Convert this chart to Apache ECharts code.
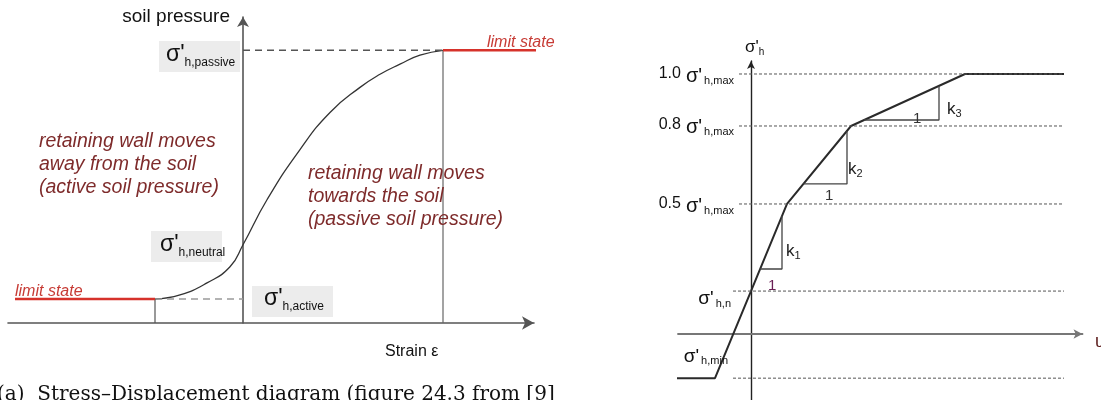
<!DOCTYPE html>
<html>
<head>
<meta charset="utf-8">
<script src="https://cdn.jsdelivr.net/npm/echarts@6/dist/echarts.min.js"></script>
<style>
  html, body { margin: 0; padding: 0; background: #fff; }
  #chart { width: 1101px; height: 400px; }
</style>
</head>
<body>
<div id="chart"></div>
<script>
// left diagram : strain (passive limit = 1) vs soil pressure (passive = 1)
const curveStrain   = [-0.44, -0.315, -0.18, -0.065, 0, 0.12, 0.285, 0.435, 0.585, 0.685, 0.785, 0.885, 1.0];
const curvePressure = [0.088, 0.103, 0.147, 0.206, 0.287, 0.452, 0.636, 0.772, 0.864, 0.912, 0.949, 0.982, 1.0];
const activeStrain = -0.44;
const passiveStrain = 1.0;
const activePressure = 0.088;
const passivePressure = 1.0;
const limitLeftEnd = -1.14;
const limitRightEnd = 1.57;

// right diagram : displacement u vs σ'h / σ'h,max
const uPoints   = [-0.78, -0.36, 0, 0.36, 1.0, 2.14, 3.13];
const sigPoints = [-0.17, -0.17, 0.165, 0.5, 0.8, 1.0, 1.0];
const levelValues = [1.0, 0.8, 0.5, 0.165, -0.17];
const levelStart  = [-0.12, -0.12, -0.12, -0.18, -0.18];
const levelEnd = 3.13;
const triK1 = [[0.09, 0.25], [0.31, 0.25], [0.31, 0.454]];
const triK2 = [[0.524, 0.577], [0.96, 0.577], [0.96, 0.781]];
const triK3 = [[1.131, 0.823], [1.88, 0.823], [1.88, 0.954]];

const SANS = '"Liberation Sans", Arial, sans-serif';
const RED = '#d6322b';
const WINE = '#7e2b2b';

let myChart = echarts.init(document.getElementById('chart'));

function seg(g, data, color, width, type) {
  return {
    type: 'line', xAxisIndex: g, yAxisIndex: g, data: data,
    symbol: 'none', clip: false, silent: true,
    lineStyle: { color: color, width: width, type: type || 'solid' }
  };
}

function zip(a, b) {
  return a.map((v, i) => [v, b[i]]);
}

// σ with lowered subscript, parts = [text, fontSize, centre offset from top, left pad]
function rich(x, y, align, parts, color) {
  let text = '';
  let r = {};
  parts.forEach((p, i) => {
    text += '{t' + i + '|' + p[0] + '}';
    r['t' + i] = {
      fontSize: p[1], verticalAlign: 'top',
      padding: [Math.max(0, p[2] - p[1] / 2), 0, 0, p[3] || 0],
      fontFamily: SANS, fill: color || '#111'
    };
  });
  return { type: 'text', x: x, y: y, z: 20, silent: true,
    style: { text: text, rich: r, align: align, verticalAlign: 'top' } };
}

function txt(x, y, text, size, opts) {
  opts = opts || {};
  return { type: 'text', x: x, y: y, z: 20, silent: true,
    style: Object.assign({
      text: text, fontSize: size, fontFamily: SANS, fill: '#111',
      align: 'left', verticalAlign: 'middle'
    }, opts) };
}

function box(x, y, w, h) {
  return { type: 'rect', z: 15, silent: true, shape: { x: x, y: y, width: w, height: h }, style: { fill: '#ececec' } };
}

let axisOff = {
  axisTick: { show: false }, axisLabel: { show: false }, splitLine: { show: false }
};

let curve = seg(0, zip(curveStrain, curvePressure), '#333', 1.3);
curve.smooth = 0.5;

let series = [
  // left
  curve,
  seg(0, [[0, passivePressure], [passiveStrain, passivePressure]], '#555', 1.3, [7, 5]),
  seg(0, [[activeStrain, activePressure], [0, activePressure]], '#9a9a9a', 1.3, [7, 5]),
  seg(0, [[activeStrain, 0], [activeStrain, activePressure]], '#555', 1.2),
  seg(0, [[passiveStrain, 0], [passiveStrain, passivePressure]], '#666', 1.2),
  seg(0, [[limitLeftEnd, activePressure], [activeStrain, activePressure]], RED, 2.5),
  seg(0, [[passiveStrain, passivePressure], [limitRightEnd, passivePressure]], RED, 2.5),
  // right
  seg(1, zip(uPoints, sigPoints), '#2a2a2a', 2),
  seg(1, triK1, '#444', 1.3),
  seg(1, triK2, '#444', 1.3),
  seg(1, triK3, '#444', 1.3)
];
levelValues.forEach((v, i) => {
  series.push(seg(1, [[levelStart[i], v], [levelEnd, v]], '#555', 1, [3, 2]));
});

let maxLabel = (n) => [[n, 16, 7.8], ["σ'", 20, 9.4, 5], ['h,max', 11, 14.5, 2]];

let graphics = [
  // left labels
  txt(230, 17, 'soil pressure', 19, { align: 'right' }),
  box(159, 41, 81, 31), box(151, 231, 71, 31), box(252, 286, 81, 31),
  rich(166, 43.5, 'left', [["σ'", 23, 11.5], ['h,passive', 12, 19.3]]),
  rich(160, 233.5, 'left', [["σ'", 23, 11.5], ['h,neutral', 12, 19.3]]),
  rich(264, 287.5, 'left', [["σ'", 23, 11.5], ['h,active', 12, 19.3]]),
  { type: 'text', x: 39, y: 130, z: 20, silent: true, style: {
    text: 'retaining wall moves\naway from the soil\n(active soil pressure)',
    fontSize: 19.5, fontStyle: 'italic', fontFamily: SANS, fill: WINE, lineHeight: 23, verticalAlign: 'top' } },
  { type: 'text', x: 308, y: 162, z: 20, silent: true, style: {
    text: 'retaining wall moves\ntowards the soil\n(passive soil pressure)',
    fontSize: 19.5, fontStyle: 'italic', fontFamily: SANS, fill: WINE, lineHeight: 23, verticalAlign: 'top' } },
  txt(15, 291.5, 'limit state', 16, { fontStyle: 'italic', fill: '#c73b35' }),
  txt(487, 42.5, 'limit state', 16, { fontStyle: 'italic', fill: '#c73b35' }),
  txt(385, 351.5, 'Strain ε', 16),
  // right labels
  rich(745, 38.5, 'left', [["σ'", 17, 8.5], ['h', 10, 14]]),
  rich(734, 66, 'right', maxLabel('1.0')),
  rich(734, 117, 'right', maxLabel('0.8')),
  rich(734, 196, 'right', maxLabel('0.5')),
  rich(731, 289, 'right', [["σ'", 19, 8.8], ['h,n', 11, 14.5, 2]]),
  rich(728, 347, 'right', [["σ'", 19, 8.8], ['h,min', 11, 13.5, 2]]),
  rich(786, 243, 'left', [['k', 17, 8], ['1', 11, 12.5]], '#222'),
  rich(848, 161, 'left', [['k', 17, 8], ['2', 11, 12.5]], '#222'),
  rich(947, 101, 'left', [['k', 17, 8], ['3', 11, 12.5]], '#222'),
  txt(768, 285.5, '1', 15, { fill: '#6a1f55' }),
  txt(825, 196, '1', 15, { fill: '#333' }),
  txt(913, 119, '1', 15, { fill: '#333' }),
  txt(1095, 342, 'u', 18, { fill: '#5a1a1a' }),
  // caption
  txt(-3, 395, '(a)  Stress–Displacement diagram (figure 24.3 from [9]', 20,
    { fontFamily: '"DejaVu Serif", serif', fill: '#111' })
];

let options = {
  backgroundColor: '#fff',
  animation: false,
  grid: [
    { left: 8, top: 17, width: 526, height: 306 },
    { left: 678, top: 61, width: 404.5, height: 339 }
  ],
  xAxis: [
    Object.assign({ type: 'value', gridIndex: 0, min: -1.175, max: 1.455,
      axisLine: { show: true, onZero: true, symbol: ['none', 'arrow'], symbolSize: [10, 12],
        lineStyle: { color: '#555', width: 1.6 } } }, axisOff),
    Object.assign({ type: 'value', gridIndex: 1, min: -0.73, max: 3.315,
      axisLine: { show: true, onZero: true, symbol: ['none', 'arrow'], symbolSize: [7, 9],
        lineStyle: { color: '#777', width: 1.8 } } }, axisOff)
  ],
  yAxis: [
    Object.assign({ type: 'value', gridIndex: 0, min: 0, max: 1.122,
      axisLine: { show: true, onZero: true, symbol: ['none', 'arrow'], symbolSize: [9, 10],
        lineStyle: { color: '#555', width: 1.6 } } }, axisOff),
    Object.assign({ type: 'value', gridIndex: 1, min: -0.254, max: 1.05,
      axisLine: { show: true, onZero: true, symbol: ['none', 'arrow'], symbolSize: [6, 8],
        lineStyle: { color: '#222', width: 1.4 } } }, axisOff)
  ],
  series: series,
  graphic: graphics
};

myChart.setOption(options);
</script>
</body>
</html>
